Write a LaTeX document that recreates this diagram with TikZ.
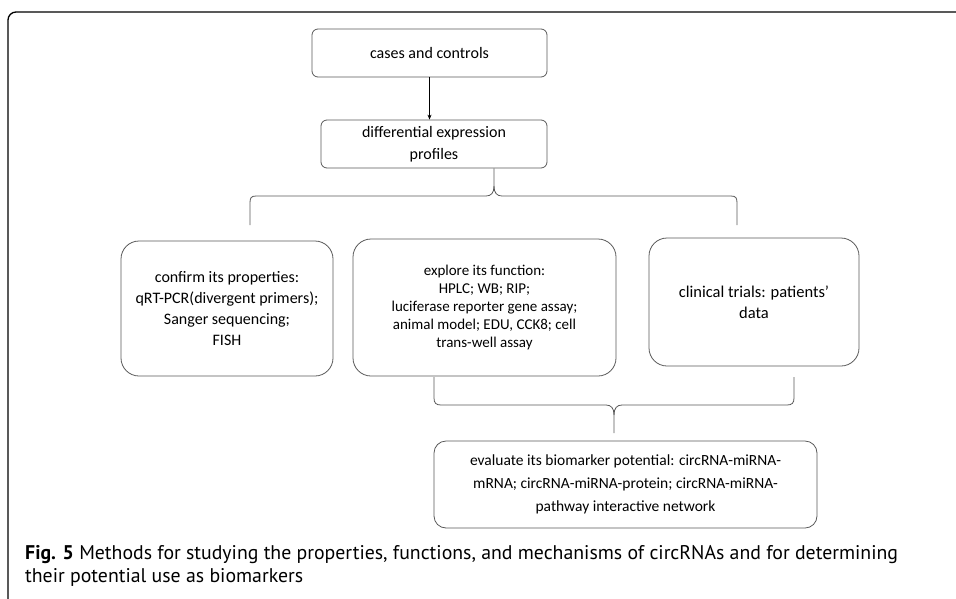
\documentclass[tikz,border=0pt]{standalone}
\usepackage{fontspec}
\setmainfont{Carlito}
\newfontfamily\capfont{PT Sans}
\usetikzlibrary{arrows.meta}

\begin{document}
\begin{tikzpicture}[x=1pt,y=-1pt,
  every node/.append style={font=\fontsize{15}{18}\selectfont, text=black, align=center, inner sep=0pt},
  top box/.style={draw=black!65, line width=0.8pt, rounded corners=6pt, minimum height=48pt, font=\fontsize{16}{22}\selectfont},
  method box/.style={draw=black!65, line width=0.8pt, rounded corners=18pt},
  brace/.style={draw=black!65, line width=0.8pt},
  caption/.style={anchor=base west, align=left, font=\capfont\fontsize{19.8}{23}\selectfont}]
\useasboundingbox (0,0) rectangle (956,598);
% frame
\draw[line width=1.3pt, rounded corners=8pt] (8,604) -- (8,12) -- (962,12);

\node[top box, minimum width=235pt] (cases) at (429.5,53) {cases and controls};
\node[top box, minimum width=226pt] (profiles) at (434,144) {differential expression\\profiles};
\draw[-{Stealth[length=5pt,width=4pt]}, line width=0.8pt] (cases.south) -- (cases.south |- profiles.north);

\node[method box, minimum width=212pt, minimum height=135pt, font=\fontsize{16}{21}\selectfont] (confirm) at (227,308.5)
  {confirm its properties:\\qRT-PCR(divergent primers);\\Sanger sequencing;\\FISH};
\node[method box, minimum width=263pt, minimum height=137pt] (explore) at (484.5,307.5)
  {explore its function:\\HPLC; WB; RIP;\\luciferase reporter gene assay;\\animal model; EDU, CCK8; cell\\trans-well assay};
\node[method box, minimum width=210pt, minimum height=128pt, font=\fontsize{16.5}{21}\selectfont] (trials) at (754,302)
  {clinical trials: patients'\\data};

\node[top box, rounded corners=12pt, minimum width=383pt, minimum height=87pt, font=\fontsize{15.5}{23}\selectfont] (evaluate) at (625.5,484.5)
  {evaluate its biomarker potential: circRNA-miRNA-\\mRNA; circRNA-miRNA-protein; circRNA-miRNA-\\pathway interactive network};

% braces
\coordinate (up tip) at ([xshift=60pt]profiles.south);
\coordinate (up left) at (250,225);
\coordinate (up right) at (737,225);
\draw[brace] (up left) -- (250,203) .. controls (250,198) and (251,196) .. (256,196) -- (486,196)
  .. controls (491,196) and (494,193) .. (494,186) -- (up tip);
\draw[brace] (up right) -- (737,203) .. controls (737,198) and (736,196) .. (731,196) -- (502,196)
  .. controls (497,196) and (494,193) .. (494,186);

\coordinate (low left) at (434,377);
\coordinate (low right) at (794,377);
\coordinate (low tip) at (614,433);
\draw[brace] (low left) -- (434,398) .. controls (434,403) and (436,405) .. (441,405) -- (606,405)
  .. controls (611,405) and (614,408) .. (614,415) -- (low tip);
\draw[brace] (low right) -- (794,398) .. controls (794,403) and (792,405) .. (787,405) -- (622,405)
  .. controls (617,405) and (614,408) .. (614,415);

\node[caption] (cap) at (25,582)
  {\textbf{Fig. 5} Methods for studying the properties, functions, and mechanisms of circRNAs and for determining\\their potential use as biomarkers};
\end{tikzpicture}
\end{document}
